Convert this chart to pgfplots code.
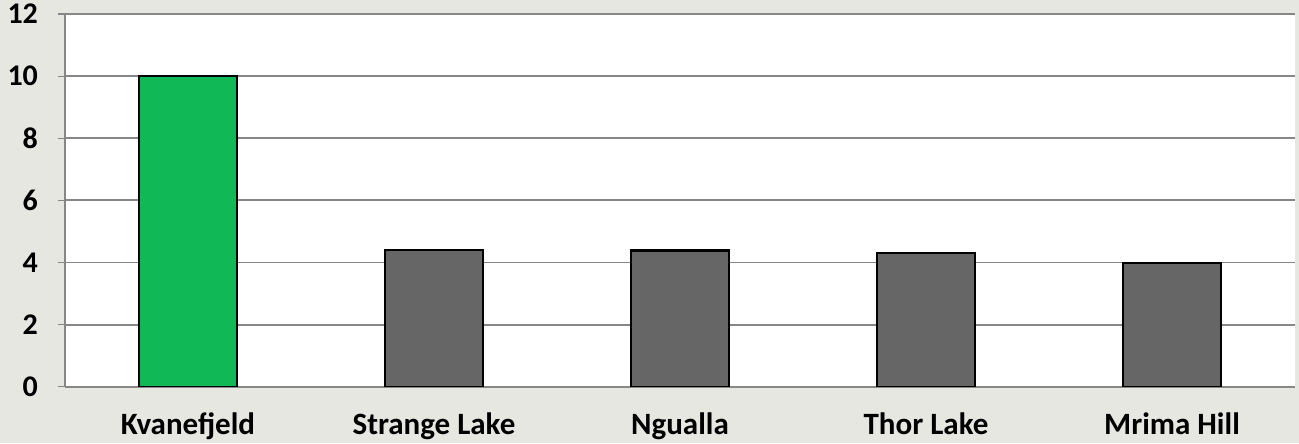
\documentclass[border=0pt]{standalone}
\usepackage{pgfplots}
\pgfplotsset{compat=1.18}
\usepackage{fontspec}
\setmainfont{Carlito}
\definecolor{bgc}{RGB}{231,231,225}
\definecolor{gridc}{RGB}{135,135,135}
\definecolor{barg}{RGB}{16,185,85}
\definecolor{bark}{RGB}{102,102,102}
\begin{document}
\begin{tikzpicture}
\fill[bgc] (-32.5pt,-28.15pt) rectangle (617pt,193.4pt);
\useasboundingbox (-32.5pt,-28.15pt) rectangle (617pt,193.4pt);
\begin{axis}[
  at={(0,0)}, anchor=south west,
  scale only axis, width=615pt, height=186.4pt,
  xmin=-0.5, xmax=4.5, ymin=0, ymax=12,
  axis x line*=bottom, axis y line*=left,
  axis line style={gridc, line width=0.8pt, -},
  axis background/.style={fill=white},
  ytick={0,2,4,6,8,10,12},
  yticklabels={0,2,4,6,8,10,12},
  ymajorgrids, major grid style={gridc, line width=0.9pt},
  xtick={0,1,2,3,4},
  xticklabels={Kvanefjeld,Strange Lake,Ngualla,Thor Lake,Mrima Hill},
  minor xtick={-0.5,0.5,1.5,2.5,3.5,4.5},
  tick align=outside,
  major tick length=3.5pt, minor tick length=3.5pt,
  xtick style={draw=none},
  minor tick style={gridc, line width=0.5pt},
  ytick style={gridc, line width=0.6pt},
  yticklabel style={font=\fontsize{15}{17}\selectfont\bfseries, xshift=-6.5pt},
  xticklabel style={font=\fontsize{15.5}{18}\selectfont\bfseries, yshift=-6pt},
  bar width=0.4,
]
\addplot[ybar, bar shift=0pt, fill=barg, draw=black, line width=1.1pt] coordinates {(0,10)};
\addplot[ybar, bar shift=0pt, fill=bark, draw=black, line width=1.1pt] coordinates {(1,4.41) (2,4.39) (3,4.30) (4,3.98)};
\end{axis}
\end{tikzpicture}
\end{document}
